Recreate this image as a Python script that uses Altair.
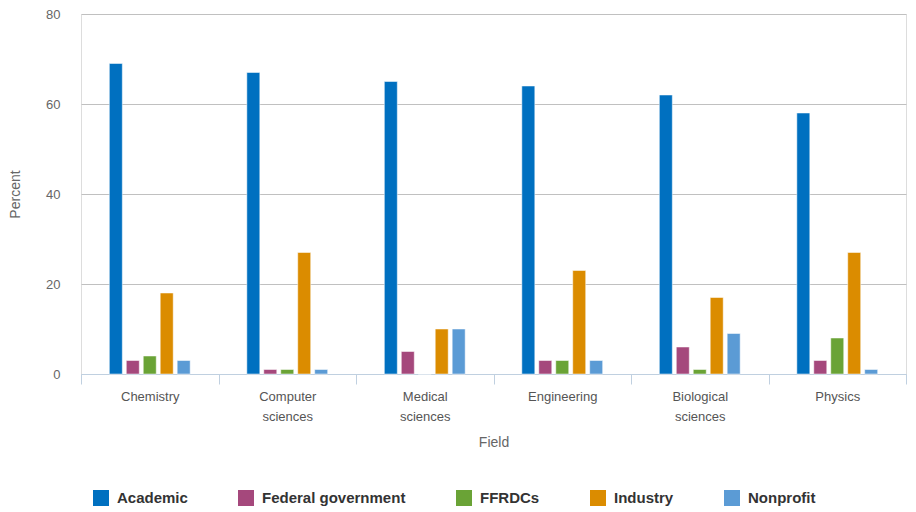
import altair as alt
import pandas as pd

fields = ["Chemistry", "Computer sciences", "Medical sciences", "Engineering", "Biological sciences", "Physics"]
sectors = ["Academic", "Federal government", "FFRDCs", "Industry", "Nonprofit"]
academic = [69, 67, 65, 64, 62, 58]
federal = [3, 1, 5, 3, 6, 3]
ffrdcs = [4, 1, 0, 3, 1, 8]
industry = [18, 27, 10, 23, 17, 27]
nonprofit = [3, 1, 10, 3, 9, 1]
colors = ["#0070C0", "#A5487C", "#6AA336", "#DB8C00", "#5B9BD5"]

series = [academic, federal, ffrdcs, industry, nonprofit]
rows = []
for s, vals in zip(sectors, series):
    for f, v in zip(fields, vals):
        rows.append({"Field": f, "Sector": s, "Percent": v})
df = pd.DataFrame(rows)

# empty slots on each side of a group, so the bars sit in the middle of each band
offset_domain = [" left"] + sectors + [" right"]

font = "Liberation Sans"

chart = alt.Chart(df).mark_bar(stroke="white", strokeWidth=0.5).encode(
    x=alt.X("Field:N", sort=fields,
            scale=alt.Scale(paddingInner=0, paddingOuter=0),
            axis=alt.Axis(title="Field", labelAngle=0, tickBand="extent",
                          labelExpr="split(datum.label, ' ')",
                          labelLineHeight=20, labelFontSize=13, labelColor="#555555",
                          labelFont=font, labelPadding=6, labelBaseline="top",
                          domainColor="#C0D0E0", tickColor="#C0D0E0", tickSize=10,
                          titleFont=font, titleFontSize=14, titleFontWeight="normal",
                          titleColor="#666666", titlePadding=12, grid=False)),
    xOffset=alt.XOffset("Sector:N",
                        scale=alt.Scale(domain=offset_domain, paddingInner=0.235, paddingOuter=0.67)),
    y=alt.Y("Percent:Q", scale=alt.Scale(domain=[0, 80]),
            axis=alt.Axis(title="Percent", values=[0, 20, 40, 60, 80],
                          labelFontSize=13, labelColor="#666666", labelFont=font,
                          labelPadding=21, ticks=False, domain=False,
                          gridColor="#C0C0C0", gridWidth=1,
                          titleFont=font, titleFontSize=14, titleFontWeight="normal",
                          titleColor="#666666", titlePadding=23)),
    color=alt.Color("Sector:N", sort=sectors,
                    scale=alt.Scale(domain=sectors, range=colors),
                    legend=alt.Legend(title=None, orient="none", direction="horizontal",
                                      columns=5, legendX=12, legendY=476,
                                      symbolType="square", symbolSize=256,
                                      symbolStrokeWidth=0, symbolOpacity=1,
                                      labelFont=font,
                                      labelFontWeight="bold", labelFontSize=15,
                                      labelColor="#333333", labelOffset=8,
                                      columnPadding=50, labelLimit=300)),
).properties(width=825, height=360).configure_view(stroke=None).configure(
    padding={"left": 0, "top": 0, "right": 0, "bottom": 0}
)

chart.save("out.html", embed_options={"renderer": "svg", "actions": False})
